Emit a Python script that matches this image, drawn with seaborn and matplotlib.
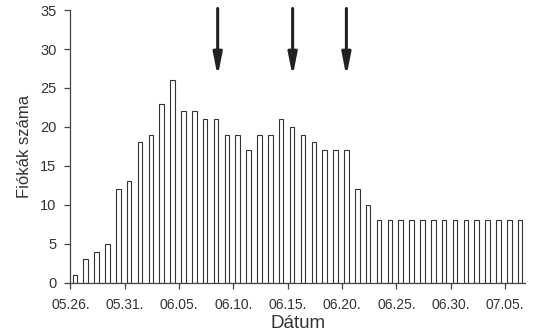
import matplotlib
matplotlib.use("Agg")
import matplotlib.pyplot as plt
import seaborn as sns
import pandas as pd
import datetime as dt

# Data
counts = [1, 3, 4, 5, 12, 13, 18, 19, 23, 26, 22, 22, 21, 21, 19, 19, 17, 19, 19, 21, 20,
          19, 18, 17, 17, 17, 12, 10, 8, 8, 8, 8, 8, 8, 8, 8, 8, 8, 8, 8, 8, 8]
start = dt.date(2000, 5, 26)
dates = [(start + dt.timedelta(days=i)).strftime("%m.%d.") for i in range(len(counts))]
tick_labels = ["05.26.", "05.31.", "06.05.", "06.10.", "06.15.", "06.20.", "06.25.", "06.30.", "07.05."]
arrow_days = [13.15, 20.05, 25.0]

df = pd.DataFrame({"Dátum": dates, "Fiókák száma": counts})

sns.set_theme(style="white")
plt.rcParams['font.family'] = ['Liberation Sans', 'DejaVu Sans']

fig = plt.figure(figsize=(5.38, 3.35), dpi=100)
ax = fig.add_axes([0.131, 0.156, 0.845, 0.814])

sns.barplot(data=df, x="Dátum", y="Fiókák száma", order=dates, color="white",
            edgecolor="#333333", linewidth=0.8, width=0.42, ax=ax)

ax.set_ylim(0, 35)
ax.set_xlim(-0.4, 41.45)
ax.set_yticks(range(0, 36, 5))
ax.set_xticks([dates.index(t) - 0.4 for t in tick_labels])
ax.set_xticklabels(tick_labels)

for s in ["top", "right"]:
    ax.spines[s].set_visible(False)
for s in ["left", "bottom"]:
    ax.spines[s].set_color("#444444")
    ax.spines[s].set_linewidth(0.9)

ax.tick_params(axis="both", which="both", direction="out", length=4, width=0.9,
               color="#444444", labelcolor="#333333", left=True, bottom=True)
ax.tick_params(axis="y", pad=6, labelsize=10.5)
ax.tick_params(axis="x", pad=7, labelsize=10)
ax.set_xlabel("Dátum", fontsize=13.5, color="#333333", labelpad=2)
ax.set_ylabel("Fiókák száma", fontsize=12, color="#333333", labelpad=6)

for xa in arrow_days:
    ax.annotate("", xy=(xa, 26.5), xytext=(xa, 35.2), annotation_clip=False,
                arrowprops=dict(arrowstyle="-|>,head_length=1.1,head_width=0.22",
                                lw=2.2, color="#222222", shrinkA=0, shrinkB=0))

fig.savefig("out.png", dpi=100)
